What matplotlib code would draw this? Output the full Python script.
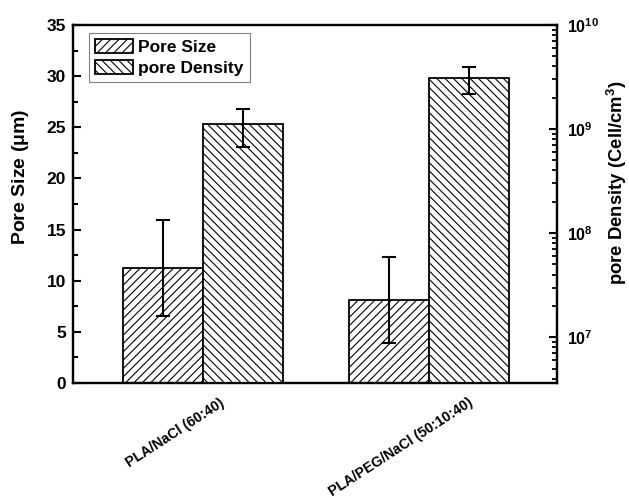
import numpy as np
import matplotlib.pyplot as plt
from matplotlib.ticker import MultipleLocator, LogLocator, NullFormatter, FixedLocator
from matplotlib.transforms import ScaledTranslation

plt.rcParams['font.family'] = ['Liberation Sans', 'DejaVu Sans']
plt.rcParams['font.weight'] = 'bold'
plt.rcParams['axes.labelweight'] = 'bold'
plt.rcParams['mathtext.fontset'] = 'custom'
plt.rcParams['mathtext.rm'] = 'Liberation Sans:bold'
plt.rcParams['mathtext.bf'] = 'Liberation Sans:bold'
plt.rcParams['mathtext.it'] = 'Liberation Sans:bold'
plt.rcParams['hatch.linewidth'] = 0.8

# data
samples = ['PLA/NaCl (60:40)', 'PLA/PEG/NaCl (50:10:40)']
pore_size = [11.25, 8.15]
pore_size_err = [4.7, 4.2]
pore_density = [1.12e9, 3.07e9]
density_lo = [6.8e8, 2.17e9]
density_hi = [1.57e9, 3.98e9]
density_ticks = [1e7, 1e8, 1e9, 1e10]
density_labels = [r'$10^{7}$', r'$10^{8}$', r'$10^{9}$', r'$10^{10}$']

x = np.arange(1, len(samples) + 1)
w = 0.354

fig = plt.figure(figsize=(6.29, 4.98), dpi=100)
ax1 = fig.add_axes([73 / 629, 1 - 383 / 498, 484 / 629, 358 / 498])
ax2 = ax1.twinx()

b1 = ax1.bar(x - w / 2, pore_size, w, facecolor='white', edgecolor='black',
             hatch='////', linewidth=1.3, zorder=2)
ax1.errorbar(x - w / 2, pore_size, yerr=pore_size_err, fmt='none', ecolor='black',
             elinewidth=1.5, capsize=5, capthick=1.5, zorder=3)

dens = np.array(pore_density)
yerr2 = [dens - np.array(density_lo), np.array(density_hi) - dens]
b2 = ax2.bar(x + w / 2, pore_density, w, facecolor='white', edgecolor='black',
             hatch='\\\\\\\\', linewidth=1.3, zorder=2)
ax2.errorbar(x + w / 2, pore_density, yerr=yerr2, fmt='none', ecolor='black',
             elinewidth=1.5, capsize=5, capthick=1.5, zorder=3)

ax1.set_xlim(0.425, 2.566)
ax1.set_ylim(0, 35)
ax1.yaxis.set_major_locator(MultipleLocator(5))
ax1.yaxis.set_minor_locator(MultipleLocator(2.5))
ax1.tick_params(axis='y', which='major', direction='in', length=6, width=1.5,
                labelsize=12.5, pad=5)
ax1.tick_params(axis='y', which='minor', direction='in', length=3.5, width=1.5)
ax1.set_xticks(x)
ax1.set_xticklabels(samples, rotation=33, ha='center', va='top', fontsize=10.2)
ax1.tick_params(axis='x', length=0, pad=9)
shift = ScaledTranslation(-28 / 100, 0, fig.dpi_scale_trans)
for lab in ax1.get_xticklabels():
    lab.set_transform(lab.get_transform() + shift)
ax1.set_ylabel(r'Pore Size ($\mu$m)', fontsize=14)
ax1.yaxis.set_label_coords(-0.087, 0.575)

ax2.set_yscale('log')
ax2.set_ylim(10 ** 6.56, 1e10)
ax2.yaxis.set_major_locator(FixedLocator(density_ticks))
ax2.set_yticklabels(density_labels)
ax2.yaxis.set_minor_locator(LogLocator(base=10, subs=np.arange(2, 10)))
ax2.yaxis.set_minor_formatter(NullFormatter())
ax2.tick_params(axis='y', which='major', direction='in', length=6, width=1.5,
                labelsize=11.5, pad=7)
ax2.tick_params(axis='y', which='minor', direction='in', length=3.5, width=1.3)
ax2.set_ylabel(r'pore Density (Cell/cm$^{3}$)', fontsize=13.3)
ax2.yaxis.set_label_coords(1.099, 0.559)

for ax in (ax1, ax2):
    for s in ax.spines.values():
        s.set_linewidth(1.6)

leg = ax2.legend([b1, b2], ['Pore Size', 'pore Density'], loc='upper left',
                 bbox_to_anchor=(0.033, 0.978), fancybox=False, framealpha=1,
                 edgecolor='gray', fontsize=12.5, handlelength=2.2, handleheight=0.85,
                 borderaxespad=0, borderpad=0.35, handletextpad=0.3, labelspacing=0.3)
leg.get_frame().set_linewidth(0.8)

fig.savefig('out.png', dpi=100)
